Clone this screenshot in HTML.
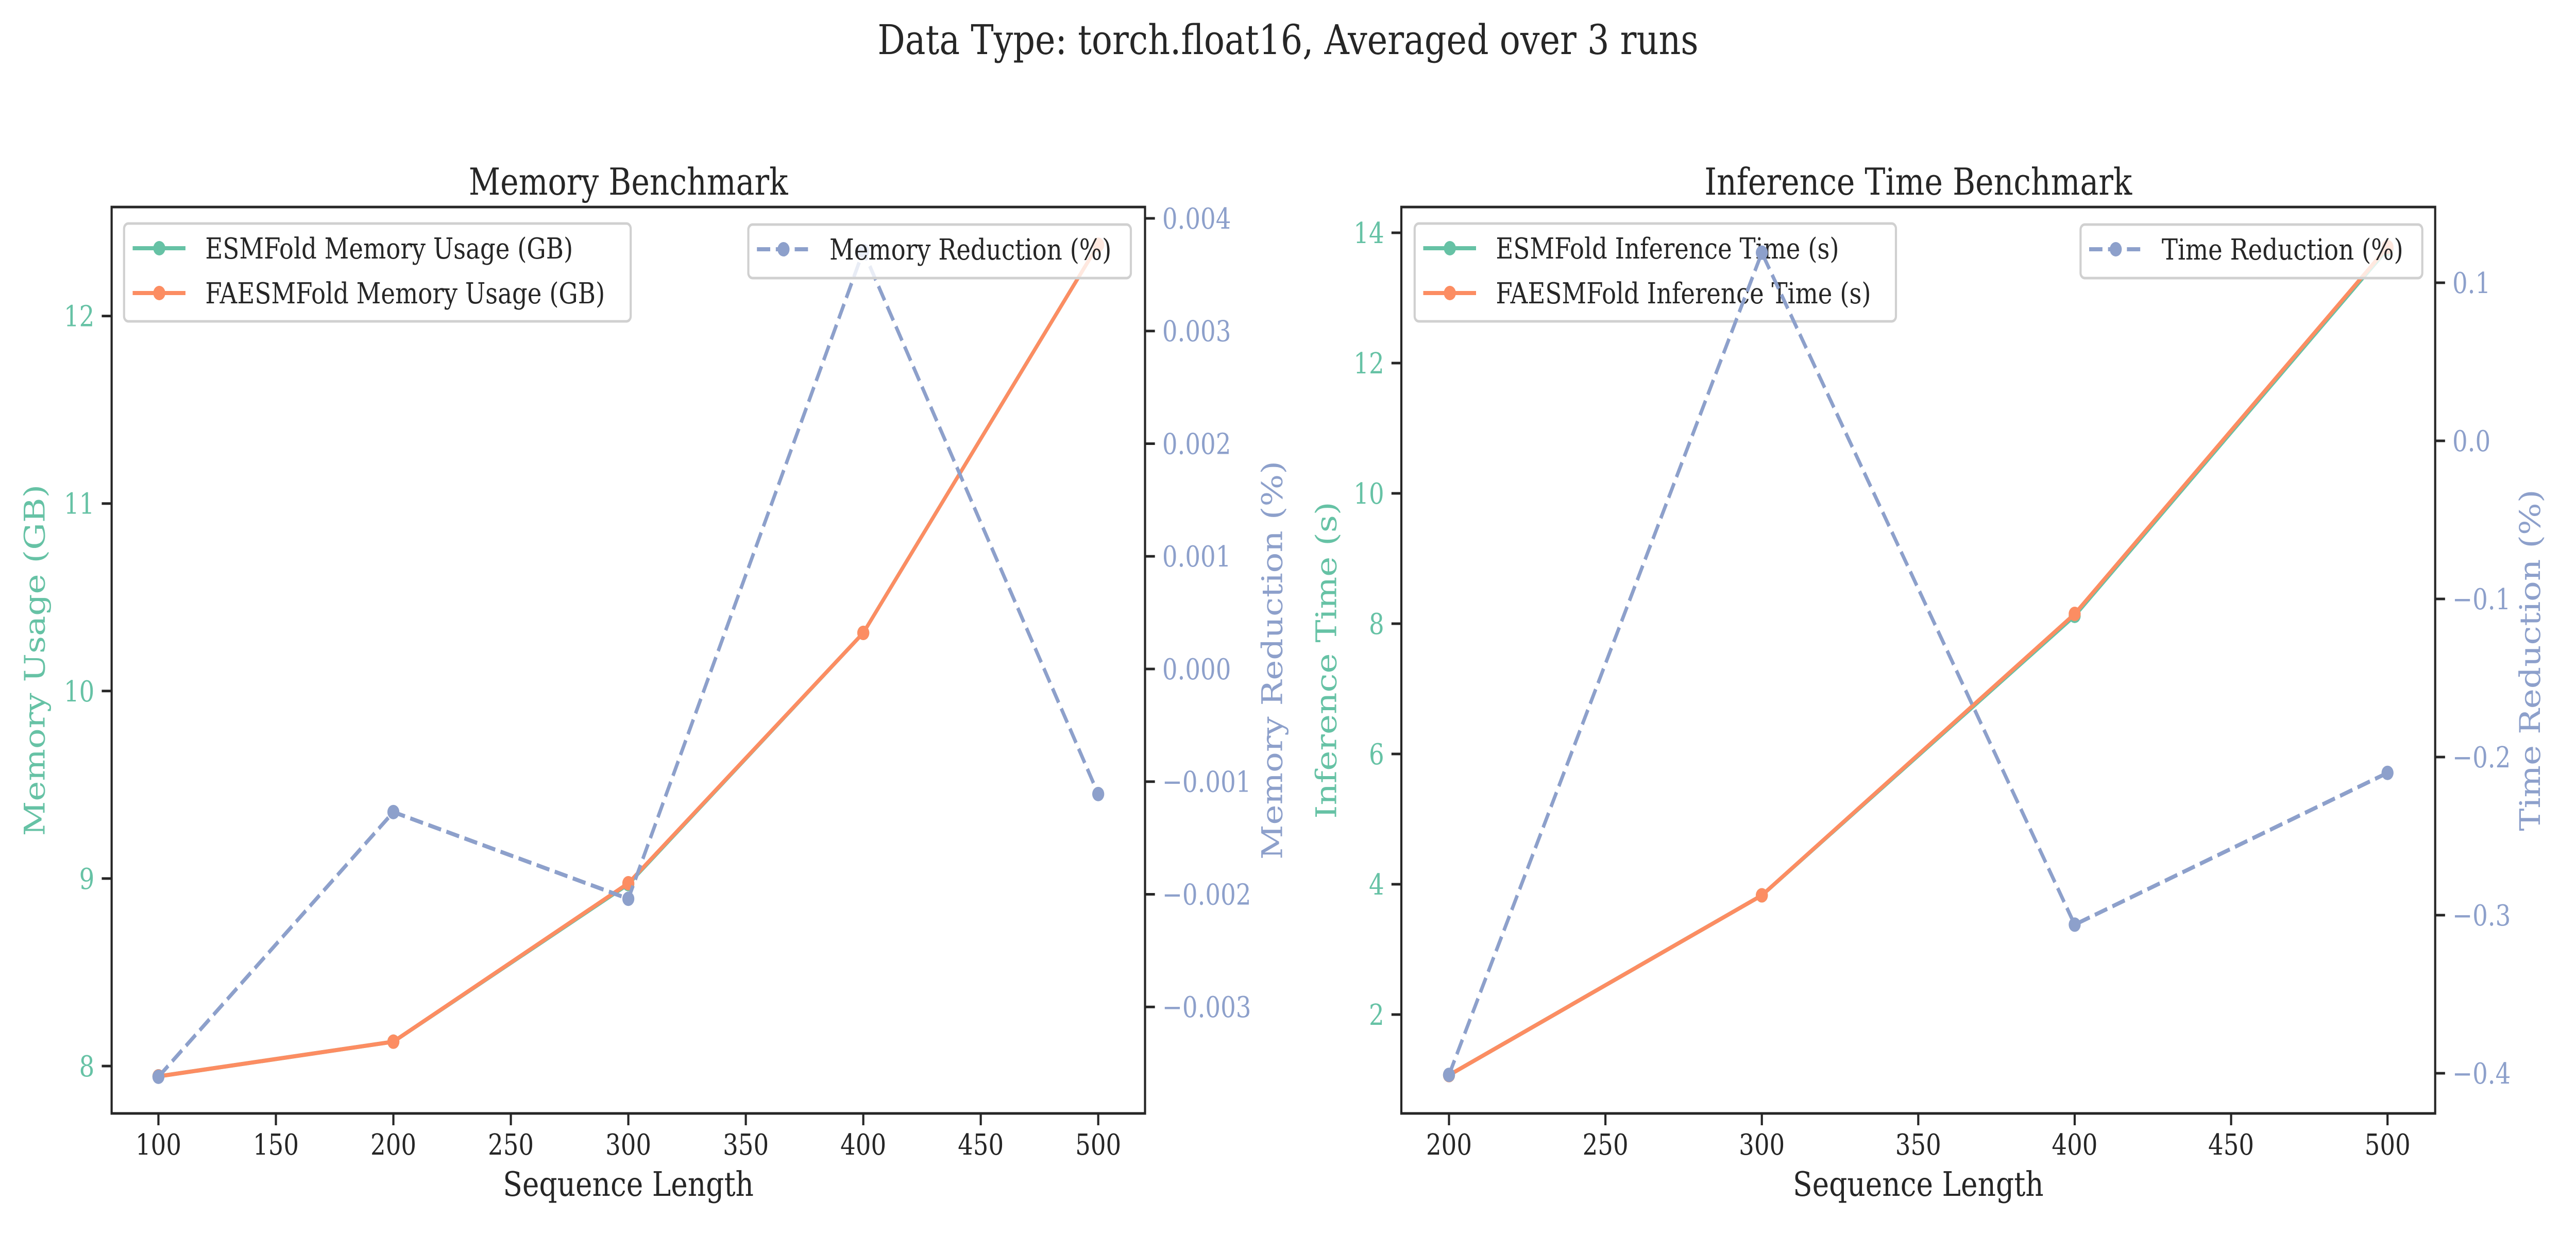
<!DOCTYPE html>
<html><head><meta charset="utf-8">
<style>
html,body{margin:0;padding:0;background:#fff;width:100%;height:100%;overflow:hidden;}
svg{display:block;width:100vw;height:100vh;font-family:"DejaVu Serif","Liberation Serif",serif;}
</style></head>
<body>
<svg id="fig" viewBox="0 0 6000 2400" preserveAspectRatio="none" xmlns="http://www.w3.org/2000/svg">
<rect width="6000" height="2400" fill="#fff"/>
<text x="3000" y="105" font-size="80" text-anchor="middle" fill="#262626">Data Type: torch.float16, Averaged over 3 runs</text>
</svg>
<script>
// ---- Memory chart data ----
const memSeqLen = [100, 200, 300, 400, 500];
const memEsm = [7.945, 8.13, 8.97, 10.31, 12.38];
const memFaesm = [7.945, 8.13, 8.975, 10.31, 12.38];
const memReduction = [-0.00362, -0.00127, -0.00204, 0.00371, -0.00111];
const memXTicks = [100, 150, 200, 250, 300, 350, 400, 450, 500];
const memYTicks = [8, 9, 10, 11, 12];
const memY2Ticks = [-0.003, -0.002, -0.001, 0.000, 0.001, 0.002, 0.003, 0.004];
const memY2Labels = ["\u22120.003","\u22120.002","\u22120.001","0.000","0.001","0.002","0.003","0.004"];
// ---- Time chart data ----
const timeSeqLen = [200, 300, 400, 500];
const timeEsm = [1.07, 3.83, 8.12, 13.75];
const timeFaesm = [1.07, 3.83, 8.15, 13.78];
const timeReduction = [-0.401, 0.119, -0.306, -0.21];
const timeXTicks = [200, 250, 300, 350, 400, 450, 500];
const timeYTicks = [2, 4, 6, 8, 10, 12, 14];
const timeY2Ticks = [-0.4, -0.3, -0.2, -0.1, 0.0, 0.1];
const timeY2Labels = ["\u22120.4","\u22120.3","\u22120.2","\u22120.1","0.0","0.1"];

const NS = "http://www.w3.org/2000/svg";
const svg = document.getElementById('fig');
const TEAL = "#66c2a5", ORANGE = "#fc8d62", BLUE = "#8da0cb", DARK = "#262626";
function mk(tag, attrs, parent) {
  const e = document.createElementNS(NS, tag);
  for (const k in attrs) e.setAttribute(k, attrs[k]);
  (parent || svg).appendChild(e);
  return e;
}
function lin(d0, d1, r0, r1) { return v => r0 + (v - d0) * (r1 - r0) / (d1 - d0); }

function drawChart(cfg) {
  const g = mk('g', {});
  
  
  const L = cfg.left, R = cfg.right, T = 402, B = 2162;
  const x = cfg.x, y = cfg.y, y2 = cfg.y2;
  const t = mk('text', {x: (L + R) / 2, y: 378, 'font-size': 72, 'text-anchor': 'middle', fill: DARK}, g);
  t.textContent = cfg.title;
  
  
  cfg.xTicks.forEach(v => {
    const px = x(v);
    const tk = mk('line', {x1: px, x2: px, y1: B, y2: B + 23, stroke: DARK, 'stroke-width': 5}, g);
    
    
    const tl = mk('text', {x: px, y: 2242, 'font-size': 56, 'text-anchor': 'middle', fill: DARK}, g);
    tl.textContent = v;
    
    
  });
  cfg.yTicks.forEach(v => {
    const py = y(v);
    const tk = mk('line', {x1: L - 23, x2: L, y1: py, y2: py, stroke: DARK, 'stroke-width': 5}, g);
    
    
    const tl = mk('text', {x: L - 40, y: py + 20, 'font-size': 56, 'text-anchor': 'end', fill: TEAL}, g);
    tl.textContent = v;
    
    
  });
  cfg.y2Ticks.forEach((v, i) => {
    const py = y2(v);
    const tk = mk('line', {x1: R, x2: R + 23, y1: py, y2: py, stroke: DARK, 'stroke-width': 5}, g);
    
    
    const tl = mk('text', {x: R + 40, y: py + 20, 'font-size': 56, 'text-anchor': 'start', fill: BLUE}, g);
    tl.textContent = cfg.y2Labels[i];
    
    
  });
  const xl = mk('text', {x: (L + R) / 2, y: 2322, 'font-size': 66, 'text-anchor': 'middle', fill: DARK}, g);
  xl.textContent = 'Sequence Length';
  
  
  const yl = mk('text', {x: 0, y: 0, 'font-size': 66, 'text-anchor': 'middle', fill: TEAL, transform: `translate(${cfg.ylx},${(T + B) / 2}) rotate(-90)`}, g);
  yl.textContent = cfg.yLabel;
  
  
  const yl2 = mk('text', {x: 0, y: 0, 'font-size': 66, 'text-anchor': 'middle', fill: BLUE, transform: `translate(${cfg.y2lx},${(T + B) / 2}) rotate(-90)`}, g);
  yl2.textContent = cfg.y2Label;
  
  

  function series(xs, ys, sc, color, dash, nm) {
    const pts = xs.map((v, i) => x(v) + ',' + sc(ys[i])).join(' ');
    const pl = mk('polyline', {points: pts, fill: 'none', stroke: color, 'stroke-width': 8, 'stroke-linejoin': 'round', 'stroke-dasharray': dash || 'none'}, g);
    
    
    xs.forEach((v, i) => {
      const c = mk('circle', {cx: x(v), cy: sc(ys[i]), r: 14, fill: color}, g);
      
      
    });
  }
  function legend(lx, ly, w, h, entries) {
    const lg = mk('g', {}, g);
    
    
    mk('rect', {x: lx, y: ly, width: w, height: h, rx: 10, fill: 'rgba(255,255,255,0.8)', stroke: '#d0d0d0', 'stroke-width': 5}, lg);
    entries.forEach((e, i) => {
      const cy = ly + 48 + i * 87;
      const eg = mk('g', {}, lg);
      
      
      mk('line', {x1: lx + 20, x2: lx + 143, y1: cy, y2: cy, stroke: e.c, 'stroke-width': 8, 'stroke-dasharray': e.d || 'none'}, eg);
      mk('circle', {cx: lx + 82, cy: cy, r: 14, fill: e.c}, eg);
      const tx = mk('text', {x: lx + 189, y: cy + 20, 'font-size': 56, fill: DARK}, eg);
      tx.textContent = e.t;
    });
  }
  series(cfg.xs, cfg.esm, y, TEAL, null, 'esmfold');
  series(cfg.xs, cfg.faesm, y, ORANGE, null, 'faesmfold');
  legend(cfg.leg1[0], 434, cfg.leg1[1], 190, [
    {c: TEAL, t: cfg.esmLabel}, {c: ORANGE, t: cfg.faLabel}]);
  series(cfg.xs, cfg.red, y2, BLUE, '31 13', 'reduction');
  legend(cfg.leg2[0], 436, cfg.leg2[1], 104, [{c: BLUE, t: cfg.redLabel, d: '31 13'}]);
  const sp = mk('rect', {x: L, y: T, width: R - L, height: B - T, fill: 'none', stroke: DARK, 'stroke-width': 5}, g);
  
  
}

drawChart({
  name: 'memory-chart', title: 'Memory Benchmark', left: 260, right: 2667,
  x: lin(100, 500, 369, 2558), y: lin(8, 12, 2070, 613.6), y2: lin(0, 0.004, 1299, 424),
  xTicks: memXTicks, yTicks: memYTicks, y2Ticks: memY2Ticks, y2Labels: memY2Labels,
  xs: memSeqLen, esm: memEsm, faesm: memFaesm, red: memReduction,
  yLabel: 'Memory Usage (GB)', y2Label: 'Memory Reduction (%)', ylx: 104, y2lx: 2986,
  esmLabel: 'ESMFold Memory Usage (GB)', faLabel: 'FAESMFold Memory Usage (GB)', redLabel: 'Memory Reduction (%)',
  leg1: [289, 1180], leg2: [1743, 891]
});
drawChart({
  name: 'time-chart', title: 'Inference Time Benchmark', left: 3264, right: 5672,
  x: lin(200, 500, 3375, 5561), y: lin(2, 14, 1970, 452), y2: lin(0, 0.1, 856, 549),
  xTicks: timeXTicks, yTicks: timeYTicks, y2Ticks: timeY2Ticks, y2Labels: timeY2Labels,
  xs: timeSeqLen, esm: timeEsm, faesm: timeFaesm, red: timeReduction,
  yLabel: 'Inference Time (s)', y2Label: 'Time Reduction (%)', ylx: 3112, y2lx: 5916,
  esmLabel: 'ESMFold Inference Time (s)', faLabel: 'FAESMFold Inference Time (s)', redLabel: 'Time Reduction (%)',
  leg1: [3295, 1121], leg2: [4846, 796]
});
</script>
</body></html>
